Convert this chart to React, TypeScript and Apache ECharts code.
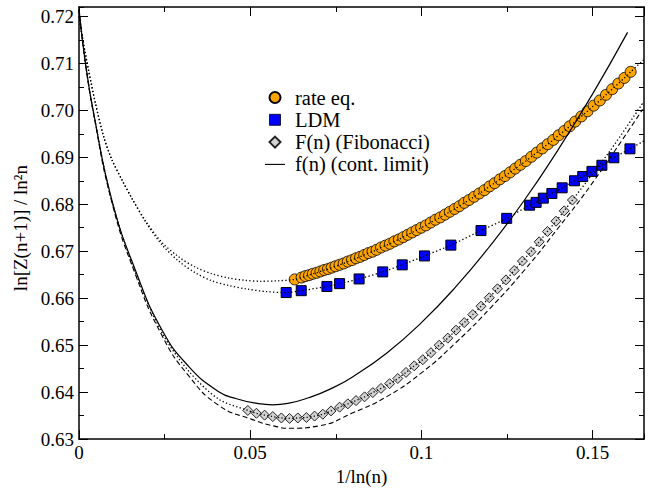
import React, { useEffect, useRef } from 'react';
import * as echarts from 'echarts';

// rate eq. (orange circles)
const rateX = [
  0.0630, 0.0650, 0.0661, 0.0672, 0.0683, 0.0694, 0.0705, 0.0716, 0.0727, 0.0738, 0.0749,
  0.0761, 0.0773, 0.0785, 0.0797, 0.0809, 0.0821, 0.0833, 0.0845, 0.0857, 0.0869,
  0.0882, 0.0895, 0.0908, 0.0921, 0.0934, 0.0947, 0.0960, 0.0973, 0.0986, 0.0999,
  0.1013, 0.1027, 0.1041, 0.1055, 0.1069, 0.1083, 0.1097, 0.1111, 0.1125, 0.1139,
  0.1154, 0.1169, 0.1184, 0.1199, 0.1214, 0.1229, 0.1244, 0.1259, 0.1274, 0.1289,
  0.1305, 0.1321, 0.1337, 0.1353, 0.1369, 0.1385, 0.1401, 0.1417, 0.1433, 0.1449,
  0.1467, 0.1485, 0.1503, 0.1521, 0.1539, 0.1557, 0.1575, 0.1593, 0.1611,
];
const rateY = [
  0.6640, 0.6644, 0.6647, 0.6649, 0.6652, 0.6654, 0.6657, 0.6660, 0.6662, 0.6665, 0.6668,
  0.6671, 0.6674, 0.6678, 0.6681, 0.6685, 0.6688, 0.6692, 0.6696, 0.6699, 0.6703,
  0.6708, 0.6712, 0.6716, 0.6721, 0.6725, 0.6730, 0.6735, 0.6740, 0.6745, 0.6750,
  0.6755, 0.6761, 0.6767, 0.6772, 0.6778, 0.6784, 0.6790, 0.6796, 0.6803, 0.6809,
  0.6816, 0.6823, 0.6830, 0.6838, 0.6845, 0.6853, 0.6860, 0.6868, 0.6876, 0.6884,
  0.6892, 0.6901, 0.6910, 0.6919, 0.6928, 0.6937, 0.6947, 0.6956, 0.6966, 0.6976,
  0.6987, 0.6998, 0.7010, 0.7021, 0.7033, 0.7045, 0.7057, 0.7069, 0.7082,
];

// LDM (blue squares)
const ldmX = [0.0605, 0.0649, 0.0724, 0.0761, 0.0818, 0.0887, 0.0944, 0.1009, 0.1086, 0.1174, 0.1249,
  0.1316, 0.1335, 0.1356, 0.1381, 0.1411, 0.1447, 0.1471, 0.1498, 0.1527, 0.1562, 0.1609];
const ldmY = [0.6612, 0.6616, 0.6625, 0.6631, 0.6641, 0.6656, 0.6671, 0.6690, 0.6713, 0.6744, 0.6770,
  0.6798, 0.6804, 0.6813, 0.6823, 0.6835, 0.6850, 0.6859, 0.6870, 0.6883, 0.6899, 0.6918];

// F(n) (Fibonacci) (grey diamonds)
const fibX = [0.0493, 0.0518, 0.0542, 0.0566, 0.0591, 0.0615, 0.0639, 0.0664, 0.0688, 0.0712,
  0.0736, 0.0761, 0.0785, 0.0809, 0.0834, 0.0858, 0.0882, 0.0907, 0.0931, 0.0955,
  0.0979, 0.1004, 0.1028, 0.1052, 0.1077, 0.1101, 0.1125, 0.1150, 0.1174, 0.1198,
  0.1222, 0.1247, 0.1271, 0.1295, 0.1320, 0.1344, 0.1368, 0.1393, 0.1417, 0.1441];
const fibY = [0.6361, 0.6355, 0.6351, 0.6348, 0.6345, 0.6344, 0.6345, 0.6346, 0.6349, 0.6353,
  0.6360, 0.6368, 0.6375, 0.6382, 0.6390, 0.6399, 0.6408, 0.6418, 0.6429, 0.6442,
  0.6456, 0.6469, 0.6484, 0.6500, 0.6515, 0.6532, 0.6548, 0.6565, 0.6583, 0.6601,
  0.6620, 0.6639, 0.6659, 0.6679, 0.6699, 0.6720, 0.6742, 0.6764, 0.6786, 0.6809];

// f(n) (cont. limit) solid curve
const contX = [0, 0.0019, 0.0043, 0.0096, 0.0165, 0.0242, 0.032, 0.0408, 0.046, 0.052, 0.0565, 0.061,
  0.067, 0.0735, 0.08, 0.09, 0.10, 0.11, 0.12, 0.13, 0.14, 0.15, 0.1602];
const contY = [0.7215, 0.7099, 0.6993, 0.6809, 0.6659, 0.6533, 0.6455, 0.6401, 0.6386, 0.6376, 0.6373, 0.6376,
  0.6388, 0.6407, 0.6433, 0.6484, 0.6548, 0.6624, 0.6711, 0.6808, 0.6917, 0.7035, 0.7166];

// dashed curve
const dashX = [0, 0.0019, 0.0043, 0.0096, 0.0165, 0.0242, 0.032, 0.0408, 0.0505, 0.058, 0.0615,
  0.07, 0.08, 0.09, 0.10, 0.11, 0.12, 0.13, 0.14, 0.15, 0.1646];
const dashY = [0.7215, 0.7099, 0.6991, 0.6804, 0.6650, 0.6521, 0.6435, 0.6372, 0.6342, 0.6326, 0.6323,
  0.6328, 0.6356, 0.6391, 0.6441, 0.6505, 0.6578, 0.6659, 0.6750, 0.6846, 0.7002];

// dotted fit curves: parts outside the data points
const rateFitLeftX = [0, 0.001, 0.0028, 0.0048, 0.0072, 0.0096, 0.0126, 0.0155, 0.0195, 0.0242, 0.0291,
  0.034, 0.0388, 0.0437, 0.0486, 0.053, 0.058];
const rateFitLeftY = [0.7200, 0.7155, 0.7085, 0.7015, 0.6944, 0.6895, 0.6851, 0.6812, 0.6764, 0.6719, 0.6688,
  0.6666, 0.6652, 0.6643, 0.6638, 0.6636, 0.6637];
const rateFitRightX = [0.165];
const rateFitRightY = [0.7108];

const ldmFitLeftX = [0, 0.001, 0.0028, 0.0048, 0.0072, 0.0096, 0.0126, 0.0155, 0.0195, 0.0242, 0.0291,
  0.034, 0.0388, 0.0437, 0.0486, 0.0547];
const ldmFitLeftY = [0.7200, 0.7155, 0.7085, 0.7015, 0.6944, 0.6895, 0.6851, 0.6812, 0.6762, 0.6714, 0.6679,
  0.6654, 0.6637, 0.6627, 0.6620, 0.6614];
const ldmFitRightX = [0.165];
const ldmFitRightY = [0.6935];

const fibFitLeftX = [0, 0.0019, 0.0043, 0.0096, 0.0165, 0.0242, 0.032, 0.0408];
const fibFitLeftY = [0.7215, 0.7099, 0.6992, 0.6806, 0.6654, 0.6527, 0.6445, 0.6385];
const fibFitRightX = [0.155, 0.1646];
const fibFitRightY = [0.6913, 0.7015];

const zip = (xs: number[], ys: number[]) => xs.map((x, i) => [x, ys[i]]);

const FONT = 'Liberation Serif';

export default function App() {
  const ref = useRef<HTMLDivElement>(null);

  useEffect(() => {
    const chart = echarts.init(ref.current as HTMLDivElement, null, { renderer: 'svg' });

    const axisLineStyle = { color: '#000', width: 1.5 };
    const tickLine = { color: '#000', width: 1 };

    const xAx = (position: string, interval: number, len: number, main: boolean, labels: boolean) => ({
      type: 'value',
      position,
      min: 0,
      max: 0.165,
      interval,
      axisLine: { show: main, onZero: false, lineStyle: axisLineStyle },
      axisTick: { show: true, inside: true, length: len, lineStyle: tickLine },
      axisLabel: {
        show: labels,
        showMaxLabel: false,
        margin: 4,
        fontFamily: FONT,
        fontSize: 19,
        color: '#000',
        formatter: (v: number) => (v === 0 ? '0' : String(+v.toFixed(3))),
      },
      splitLine: { show: false },
      minorTick: { show: false },
      ...(labels
        ? {
            name: '1/ln(n)',
            nameLocation: 'middle',
            nameGap: 23,
            nameTextStyle: { fontFamily: FONT, fontSize: 19, color: '#000' },
          }
        : {}),
    });

    const yAx = (position: string, interval: number, len: number, main: boolean, labels: boolean) => ({
      type: 'value',
      position,
      min: 0.63,
      max: 0.722,
      interval,
      axisLine: { show: main, onZero: false, lineStyle: axisLineStyle },
      axisTick: { show: true, inside: true, length: len, lineStyle: tickLine },
      axisLabel: {
        show: labels,
        showMaxLabel: false,
        margin: 5,
        fontFamily: FONT,
        fontSize: 19,
        color: '#000',
        formatter: (v: number) => v.toFixed(2),
      },
      splitLine: { show: false },
      minorTick: { show: false },
      ...(labels
        ? {
            name: 'ln[Z(n+1)] / ln²n',
            nameLocation: 'middle',
            nameRotate: 90,
            nameGap: 42,
            nameTextStyle: { fontFamily: FONT, fontSize: 19, color: '#000', padding: [0, 10, 0, 0] },
          }
        : {}),
    });

    const dotted = { color: '#000', width: 1.3, type: [1.3, 2.3] };

    const option = {
      animation: false,
      backgroundColor: '#fff',
      grid: { left: 79, right: 10, top: 7, bottom: 47 },
      xAxis: [
        xAx('bottom', 0.05, 9, true, true),
        xAx('bottom', 0.025, 5, false, false),
        xAx('top', 0.05, 9, true, false),
        xAx('top', 0.025, 5, false, false),
      ],
      yAxis: [
        yAx('left', 0.01, 9, true, true),
        yAx('left', 0.005, 5, false, false),
        yAx('right', 0.01, 9, true, false),
        yAx('right', 0.005, 5, false, false),
      ],
      legend: {
        orient: 'vertical',
        left: 265,
        top: 87,
        padding: 0,
        itemWidth: 20,
        itemHeight: 11,
        itemGap: 1.3,
        symbolKeepAspect: true,
        selectedMode: false,
        textStyle: { fontFamily: FONT, fontSize: 20.5, color: '#000', lineHeight: 20, padding: [0, 0, 0, 5] },
        data: [
          { name: 'rate eq.', icon: 'path://M10,5A5,5,0,1,1,0,5A5,5,0,1,1,10,5Z' },
          { name: 'LDM', icon: 'path://M0,0H10V10H0Z', itemStyle: { borderWidth: 0.8 } },
          { name: 'F(n) (Fibonacci)', icon: 'path://M5,0L10,5L5,10L0,5Z' },
          { name: 'f(n) (cont. limit)', icon: 'path://M0,0H40V2.2H0Z', itemStyle: { color: '#000', borderWidth: 0 } },
        ],
      },
      series: [
        {
          name: 'rate eq.',
          type: 'scatter',
          symbol: 'circle',
          symbolSize: 11,
          z: 2,
          itemStyle: { color: '#FFA500', borderColor: '#000', borderWidth: 0.8, opacity: 1 },
          data: zip(rateX, rateY),
        },
        {
          name: 'LDM',
          type: 'scatter',
          symbol: 'rect',
          symbolSize: 10,
          z: 2,
          itemStyle: { color: '#0000FF', borderColor: '#000', borderWidth: 1, opacity: 1 },
          data: zip(ldmX, ldmY),
        },
        {
          name: 'F(n) (Fibonacci)',
          type: 'scatter',
          symbol: 'diamond',
          symbolSize: 10,
          z: 2,
          itemStyle: { color: '#D3D3D3', borderColor: '#222', borderWidth: 1, opacity: 1 },
          data: zip(fibX, fibY),
        },
        {
          name: 'rate eq. fit',
          type: 'line',
          symbol: 'none',
          smooth: 0.3,
          z: 3,
          lineStyle: dotted,
          data: [...zip(rateFitLeftX, rateFitLeftY), ...zip(rateX, rateY), ...zip(rateFitRightX, rateFitRightY)],
        },
        {
          name: 'LDM fit',
          type: 'line',
          symbol: 'none',
          smooth: 0.3,
          z: 3,
          lineStyle: dotted,
          data: [...zip(ldmFitLeftX, ldmFitLeftY), ...zip(ldmX, ldmY), ...zip(ldmFitRightX, ldmFitRightY)],
        },
        {
          name: 'F(n) fit',
          type: 'line',
          symbol: 'none',
          smooth: 0.3,
          z: 3,
          lineStyle: dotted,
          data: [...zip(fibFitLeftX, fibFitLeftY), ...zip(fibX, fibY), ...zip(fibFitRightX, fibFitRightY)],
        },
        {
          name: 'dashed',
          type: 'line',
          symbol: 'none',
          smooth: 0.5,
          z: 3,
          lineStyle: { color: '#000', width: 1.1, type: [5, 3] },
          data: zip(dashX, dashY),
        },
        {
          name: 'f(n) (cont. limit)',
          type: 'line',
          symbol: 'none',
          smooth: 0.5,
          z: 4,
          lineStyle: { color: '#000', width: 1.2 },
          itemStyle: { color: '#000' },
          data: zip(contX, contY),
        },
      ],
    };

    chart.setOption(option as any);
    return () => chart.dispose();
  }, []);

  return (
    <div
      ref={ref}
      style={{ position: 'absolute', left: 0, top: 0, width: 654, height: 491, background: '#fff' }}
    />
  );
}
